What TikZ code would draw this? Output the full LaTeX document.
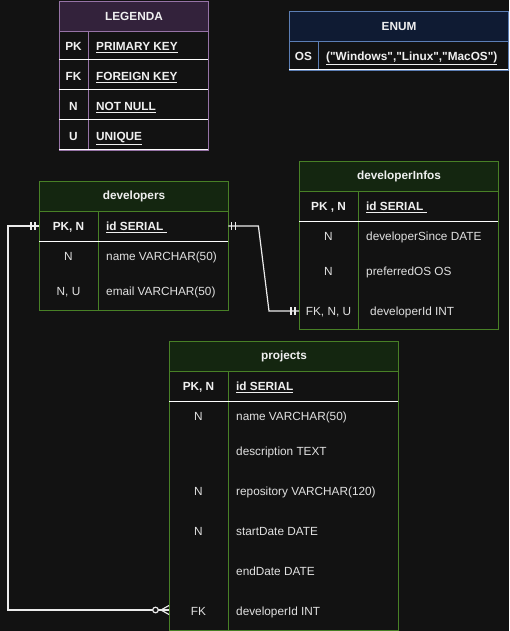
\documentclass[tikz,border=0pt]{standalone}
\usepackage{fontspec}
\setmainfont{Liberation Sans}[Ligatures=TeXOff]
\definecolor{bg}{RGB}{18,18,18}
\definecolor{fg}{RGB}{240,240,240}
\definecolor{fgtwo}{RGB}{225,225,225}
\definecolor{purp}{RGB}{150,115,166}
\definecolor{purphd}{RGB}{51,34,59}
\definecolor{blu}{RGB}{92,126,180}
\definecolor{bluhd}{RGB}{15,27,51}
\definecolor{grn}{RGB}{72,128,38}
\definecolor{grnhd}{RGB}{20,38,16}
\newcommand{\fs}{\fontsize{11.8}{14}\selectfont}
\begin{document}
\begin{tikzpicture}[x=1pt,y=-1pt,
  tbl/.style={draw=#1, line width=1pt, anchor=north west, inner sep=0pt},
  hdr/.style={tbl=#1, minimum height=30pt, font=\bfseries\fs, text=fg},
  cell/.style={font=\fs, text=fgtwo, anchor=mid, inner sep=0pt, yshift=-1.8pt},
  bcell/.style={font=\bfseries\fs, text=fg, anchor=mid, inner sep=0pt, yshift=-1.8pt},
  lcell/.style={font=\fs, text=fgtwo, anchor=mid west, inner sep=0pt, yshift=-1.8pt},
  blcell/.style={font=\bfseries\fs, text=fg, anchor=mid west, inner sep=0pt, yshift=-1.8pt},
  rowsep/.style={draw=white, line width=1pt},
  rowbox/.style={minimum height=30pt, inner sep=0pt, anchor=west},
  conn/.style={draw=white!92!black, line width=1.2pt}]
\useasboundingbox (0,0) rectangle (509,631);
\fill[bg] (0,0) rectangle (509,631);

% ---------- LEGENDA ----------
\node[hdr=purp, fill=purphd, minimum width=149pt] (leg-h) at (59,1) {LEGENDA};
\node[tbl=purp, fill=bg, minimum width=149pt, minimum height=119pt] (leg-b) at (59,31) {};
\draw[purp, line width=1pt] (88,31) -- (88,150);
\foreach \yy in {60,90,120,150} \draw[rowsep] (59,\yy) -- (208,\yy);
\node[bcell] (leg-pk) at (73.5,46) {PK};
\node[blcell] (leg-pkt) at (96,46) {\underline{PRIMARY KEY}};
\node[bcell] (leg-fk) at (73.5,76) {FK};
\node[blcell] (leg-fkt) at (96,76) {\underline{FOREIGN KEY}};
\node[bcell] (leg-n) at (73.5,106) {N};
\node[blcell] (leg-nt) at (96,106) {\underline{NOT NULL}};
\node[bcell] (leg-u) at (73.5,136) {U};
\node[blcell] (leg-ut) at (96,136) {\underline{UNIQUE}};

% ---------- ENUM ----------
\node[hdr=blu, fill=bluhd, minimum width=219pt] (enum-h) at (289,11) {ENUM};
\node[tbl=blu, fill=bg, minimum width=219pt, minimum height=29pt] (enum-b) at (289,41) {};
\draw[blu, line width=1pt] (318,41) -- (318,70);
\draw[rowsep] (289,70) -- (508,70);
\node[bcell] (enum-os) at (303.5,56) {OS};
\node[blcell] (enum-val) at (326,56) {\underline{("Windows","Linux","MacOS")}};

% ---------- developers ----------
\node[hdr=grn, fill=grnhd, minimum width=189pt] (dev-h) at (39,181) {developers};
\node[tbl=grn, fill=bg, minimum width=189pt, minimum height=99pt] (dev-b) at (39,211) {};
\draw[grn, line width=1pt] (98,211) -- (98,310);
\draw[rowsep] (39,241) -- (228,241);
\node[rowbox, minimum width=189pt] (dev-id) at (39,226) {};
\node[bcell] (dev-c1) at (68.5,226) {PK, N};
\node[blcell] (dev-t1) at (106,226) {\underline{id SERIAL\ }};
\node[cell] (dev-c2) at (68.5,256) {N};
\node[lcell] (dev-t2) at (106,256) {name VARCHAR(50)};
\node[cell] (dev-c3) at (68.5,291) {N, U};
\node[lcell] (dev-t3) at (106,291) {email VARCHAR(50)};

% ---------- developerInfos ----------
\node[hdr=grn, fill=grnhd, minimum width=199pt] (inf-h) at (299,161) {developerInfos};
\node[tbl=grn, fill=bg, minimum width=199pt, minimum height=138pt] (inf-b) at (299,191) {};
\draw[grn, line width=1pt] (358,191) -- (358,329);
\draw[rowsep] (299,221) -- (498,221);
\node[rowbox, minimum width=199pt] (inf-fk) at (299,311) {};
\node[bcell] (inf-c1) at (328.5,206) {PK , N};
\node[blcell] (inf-t1) at (366,206) {\underline{id SERIAL\ }};
\node[cell] (inf-c2) at (328.5,236) {N};
\node[lcell] (inf-t2) at (366,236) {developerSince DATE};
\node[cell] (inf-c3) at (328.5,271) {N};
\node[lcell] (inf-t3) at (366,271) {preferredOS OS};
\node[cell] (inf-c4) at (328.5,311) {FK, N, U};
\node[lcell] (inf-t4) at (370,311) {developerId INT};

% ---------- projects ----------
\node[hdr=grn, fill=grnhd, minimum width=229pt] (prj-h) at (169,341) {projects};
\node[tbl=grn, fill=bg, minimum width=229pt, minimum height=259pt] (prj-b) at (169,371) {};
\draw[grn, line width=1pt] (228,371) -- (228,630);
\draw[rowsep] (169,401) -- (398,401);
\node[rowbox, minimum width=229pt] (prj-fk) at (169,610) {};
\node[bcell] (prj-c1) at (198.5,386) {PK, N};
\node[blcell] (prj-t1) at (236,386) {\underline{id SERIAL}};
\node[cell] (prj-c2) at (198.5,416) {N};
\node[lcell] (prj-t2) at (236,416) {name VARCHAR(50)};
\node[lcell] (prj-t3) at (236,451) {description TEXT};
\node[cell] (prj-c4) at (198.5,491) {N};
\node[lcell] (prj-t4) at (236,491) {repository VARCHAR(120)};
\node[cell] (prj-c5) at (198.5,531) {N};
\node[lcell] (prj-t5) at (236,531) {startDate DATE};
\node[lcell] (prj-t6) at (236,571) {endDate DATE};
\node[cell] (prj-c7) at (198.5,611) {FK};
\node[lcell] (prj-t7) at (236,611) {developerId INT};

% ---------- connectors ----------
% developers.id -> projects.developerId (one to zero-or-many)
\draw[conn] (dev-id.west) -- ++(-31,0) |- (prj-fk.west);
\draw[conn] (dev-id.west) ++(-8,-4) -- ++(0,8);
\draw[conn] (dev-id.west) ++(-4,-4) -- ++(0,8);
\draw[conn] (prj-fk.west) ++(-8,0) -- ++(8,-4.5);
\draw[conn] (prj-fk.west) ++(-8,0) -- ++(8,4.5);
\draw[conn, fill=bg] (prj-fk.west) ++(-13.5,0) circle[radius=2.8pt];

% developers.id -> developerInfos.developerId (one to one)
\draw[conn] (dev-id.east) -- ++(30,0) -- ([xshift=-30pt]inf-fk.west) -- (inf-fk.west);
\draw[conn] (dev-id.east) ++(3,-4) -- ++(0,8);
\draw[conn] (dev-id.east) ++(7,-4) -- ++(0,8);
\draw[conn] (inf-fk.west) ++(-8,-4) -- ++(0,8);
\draw[conn] (inf-fk.west) ++(-4,-4) -- ++(0,8);
\end{tikzpicture}
\end{document}
